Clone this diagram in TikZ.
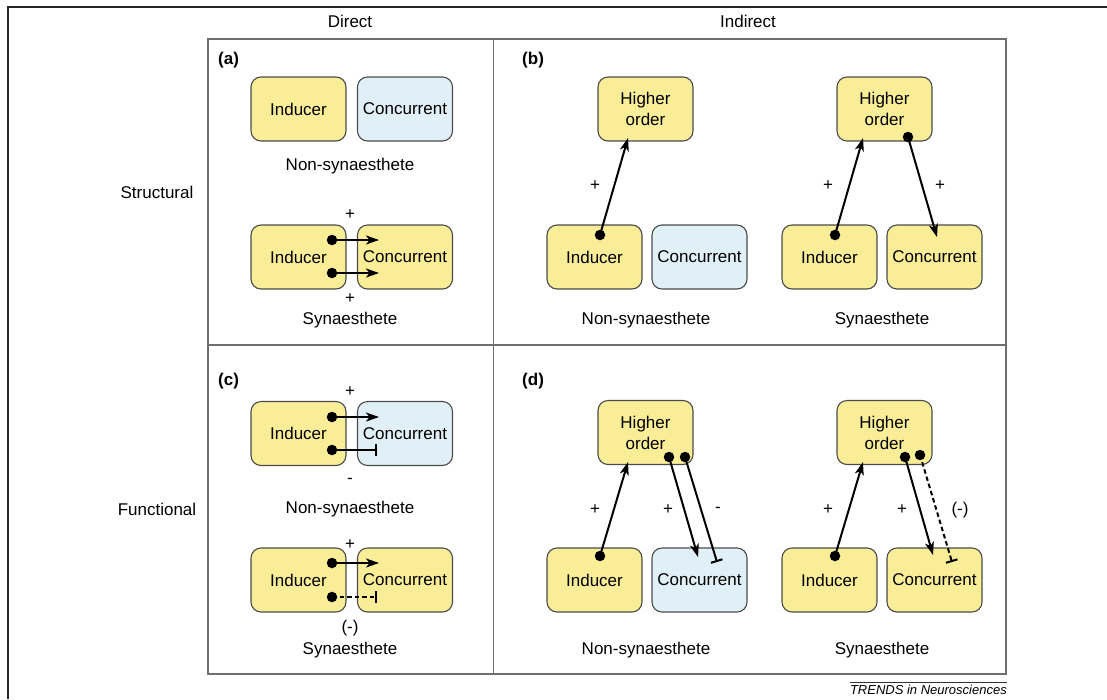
\documentclass[tikz,border=0pt]{standalone}
\usepackage{fontspec}
\setmainfont{Liberation Sans}
\usetikzlibrary{arrows.meta}

\definecolor{indyellow}{RGB}{250,237,152}
\definecolor{conblue}{RGB}{225,240,246}
\definecolor{boxline}{RGB}{75,75,75}
\definecolor{gridline}{RGB}{110,110,110}

\begin{document}
\begin{tikzpicture}[x=1pt,y=-1pt,
	box/.style={draw=boxline, line width=1.1pt, rounded corners=10pt, minimum width=95pt, minimum height=64pt, inner sep=0pt, align=center, font=\fontsize{17}{21}\selectfont},
	ind/.style={box, fill=indyellow},
	con/.style={box, fill=conblue},
	lbl/.style={font=\fontsize{17}{21}\selectfont, inner sep=0pt},
	dot/.style={circle, fill=black, inner sep=0pt, minimum size=10.5pt},
	act/.style={line width=2pt, -{Stealth[length=13pt,width=9pt,inset=3.5pt]}},
	inh/.style={line width=2pt, -{Bar[width=12pt,line width=2pt]}},
	weak/.style={inh, dash pattern=on 4.5pt off 3pt}]
\useasboundingbox (0,0) rectangle (1107,699);

% frame and grid
\draw[line width=1.1pt, black!85] (8,699) -- (8,7) -- (1107,7);
\draw[gridline, line width=1.5pt] (208,39) rectangle (1006,674);
\draw[gridline, line width=1.5pt] (493.5,39) -- (493.5,674);
\draw[gridline, line width=1.5pt] (208,345) -- (1006,345);

% headings
\node[lbl] (hdir) at (350,21) {Direct};
\node[lbl] (hind) at (748,21) {Indirect};
\node[lbl] (hstr) at (157,192) {Structural};
\node[lbl] (hfun) at (157,509) {Functional};
\foreach \n/\x/\y in {a/218/60, b/522/60, c/218/381, d/522/381}
	\node[lbl, anchor=west, font=\fontsize{17}{21}\selectfont\bfseries] (p\n) at (\x,\y) {(\n)};

% (a) direct, structural
\node[ind] (ia1) at (298.5,109) {Inducer};
\node[con] (ca1) at (405,109) {Concurrent};
\node[ind] (ia2) at (298.5,257) {Inducer};
\node[ind] (ca2) at (405,257) {Concurrent};
\node[dot] (da1) at (332,240) {};
\node[dot] (da2) at (332,273) {};
\coordinate (ta1) at (379,240);
\coordinate (ta2) at (379,273);
\draw[act] (da1.center) -- (ta1);
\draw[act] (da2.center) -- (ta2);

% (c) direct, functional
\node[ind] (ic1) at (298.5,433.5) {Inducer};
\node[con] (cc1) at (405,433.5) {Concurrent};
\node[ind] (ic2) at (298.5,580) {Inducer};
\node[ind] (cc2) at (405,580) {Concurrent};
\node[dot] (dc1) at (332,417) {};
\node[dot] (dc2) at (332,450) {};
\node[dot] (dc3) at (332,563) {};
\node[dot] (dc4) at (332,597) {};
\coordinate (tc1) at (379,417);
\coordinate (tc2) at (377,450);
\coordinate (tc3) at (379,563);
\coordinate (tc4) at (377,597);
\draw[act] (dc1.center) -- (tc1);
\draw[inh] (dc2.center) -- (tc2);
\draw[act] (dc3.center) -- (tc3);
\draw[weak] (dc4.center) -- (tc4);

% (b) indirect, structural
\node[ind] (hb1) at (645.5,109) {Higher\\order};
\node[ind] (ib1) at (594.5,257) {Inducer};
\node[con] (cb1) at (699.5,257) {Concurrent};
\node[ind] (hb2) at (884.5,109) {Higher\\order};
\node[ind] (ib2) at (829.5,257) {Inducer};
\node[ind] (cb2) at (934.5,257) {Concurrent};
\node[dot] (db1) at (600,235) {};
\node[dot] (db2) at (835,235) {};
\node[dot] (db3) at (908,137) {};
\coordinate (tb1) at (628,138);
\coordinate (tb2) at (863,138);
\coordinate (tb3) at (937,237);
\draw[act] (db1.center) -- (tb1);
\draw[act] (db2.center) -- (tb2);
\draw[act] (db3.center) -- (tb3);

% (d) indirect, functional
\node[ind] (hd1) at (645.5,432.5) {Higher\\order};
\node[ind] (id1) at (594.5,580) {Inducer};
\node[con] (cd1) at (699.5,580) {Concurrent};
\node[ind] (hd2) at (884.5,432.5) {Higher\\order};
\node[ind] (id2) at (829.5,580) {Inducer};
\node[ind] (cd2) at (934.5,580) {Concurrent};
\node[dot] (dd1) at (600,556) {};
\node[dot] (dd2) at (669,457) {};
\node[dot] (dd3) at (685,457) {};
\node[dot] (dd4) at (835,556) {};
\node[dot] (dd5) at (905,457) {};
\node[dot] (dd6) at (920,455) {};
\coordinate (td1) at (628,462);
\coordinate (td2) at (698,557);
\coordinate (td3) at (717,562);
\coordinate (td4) at (863,462);
\coordinate (td5) at (933,555);
\coordinate (td6) at (952,562);
\draw[act] (dd1.center) -- (td1);
\draw[act] (dd2.center) -- (td2);
\draw[inh] (dd3.center) -- (td3);
\draw[act] (dd4.center) -- (td4);
\draw[act] (dd5.center) -- (td5);
\draw[weak] (dd6.center) -- (td6);

% signs and captions
\foreach \n/\x/\y/\t in {s1/350/215/+, s2/350/299/+, s3/350/392/+, s4/350/481/-, s5/350/545/+, s6/350/628/(-),
	s7/595/186/+, s8/828/186/+, s9/940/186/+, s10/595/510/+, s11/668/510/+, s12/718/510/-,
	s13/828/510/+, s14/902/510/+, s15/960/510/(-)}
	\node[lbl] (\n) at (\x,\y) {\t};
\foreach \n/\x/\y/\t in {na/350/166/Non-synaesthete, sa/350/320/Synaesthete, nc/350/509/Non-synaesthete, sc/350/650/Synaesthete,
	nb/646/320/Non-synaesthete, sb/882/320/Synaesthete, nd/646/650/Non-synaesthete, sd/882/650/Synaesthete}
	\node[lbl] (\n) at (\x,\y) {\t};

% journal mark
\node[anchor=east, inner sep=0pt, font=\fontsize{13}{15}\selectfont\itshape] (jrn) at (1007,690) {TRENDS in Neurosciences};
\draw[line width=0.8pt, black!80] (jrn.north west) ++(0,-3) -- ([yshift=3pt]jrn.north east);
\end{tikzpicture}
\end{document}
